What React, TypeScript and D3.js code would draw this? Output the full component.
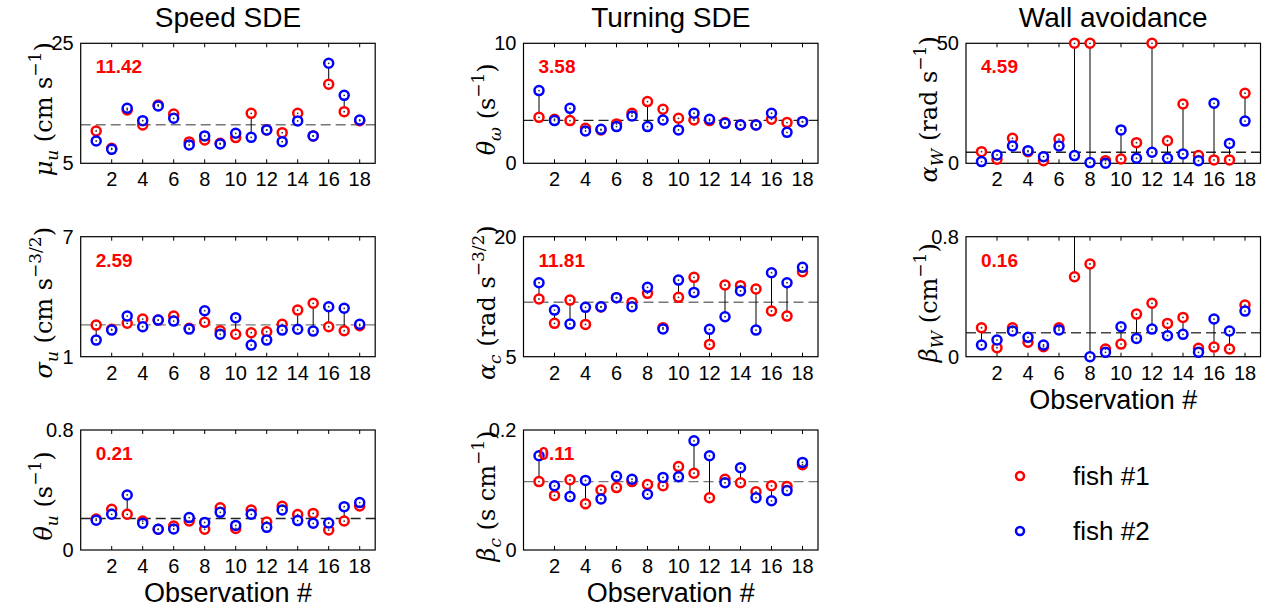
import React from 'react';
import * as d3 from 'd3';

// ---------------- data ----------------
const observations = [1, 2, 3, 4, 5, 6, 7, 8, 9, 10, 11, 12, 13, 14, 15, 16, 17, 18];
const xTickValues = [2, 4, 6, 8, 10, 12, 14, 16, 18];
const seriesNames = ['fish #1', 'fish #2'];
const columnTitles = ['Speed SDE', 'Turning SDE', 'Wall avoidance'];

// Speed SDE: mu_u
const muUFish1 = [10.39, 7.5, 13.89, 11.39, 14.72, 13.22, 8.56, 8.89, 8.33, 9.28, 13.33, 10.56, 10.11, 13.33, 9.56, 18.17, 13.61, 12.11];
const muUFish2 = [8.72, 7.33, 14.17, 12.11, 14.56, 12.5, 8.06, 9.56, 8.22, 10.0, 9.33, 10.56, 8.61, 12.06, 9.56, 21.67, 16.33, 12.22];
// Speed SDE: sigma_u
const sigmaUFish1 = [2.58, 2.37, 2.67, 2.88, 2.83, 3.03, 2.42, 2.72, 2.3, 2.12, 2.2, 2.25, 2.62, 3.33, 3.67, 2.5, 2.3, 2.55];
const sigmaUFish2 = [1.83, 2.33, 3.03, 2.5, 2.83, 2.78, 2.38, 3.3, 2.12, 2.95, 1.58, 1.83, 2.33, 2.37, 2.28, 3.5, 3.42, 2.62];
// Speed SDE: theta_u
const thetaUFish1 = [0.207, 0.271, 0.238, 0.193, 0.138, 0.16, 0.193, 0.138, 0.282, 0.144, 0.267, 0.187, 0.291, 0.236, 0.244, 0.133, 0.193, 0.293];
const thetaUFish2 = [0.198, 0.238, 0.367, 0.178, 0.138, 0.14, 0.216, 0.184, 0.251, 0.164, 0.238, 0.151, 0.267, 0.196, 0.178, 0.18, 0.289, 0.316];
// Turning SDE: theta_omega
const thetaWFish1 = [3.83, 3.67, 3.56, 2.92, 2.78, 3.28, 4.17, 5.14, 4.5, 3.75, 3.61, 3.56, 3.39, 3.19, 3.19, 3.67, 3.39, 3.47];
const thetaWFish2 = [6.06, 3.56, 4.58, 2.69, 2.83, 3.06, 3.94, 3.06, 3.61, 2.78, 4.17, 3.67, 3.33, 3.19, 3.19, 4.17, 2.58, 3.47];
// Turning SDE: alpha_c
const alphaCFish1 = [12.21, 9.17, 12.08, 9.04, 11.21, 12.38, 11.79, 12.92, 8.63, 12.42, 14.92, 6.54, 13.96, 13.88, 13.46, 10.71, 10.08, 15.63];
const alphaCFish2 = [14.25, 10.83, 9.08, 11.17, 11.25, 12.38, 11.25, 13.67, 8.46, 14.58, 13.04, 8.42, 10.0, 13.21, 8.33, 15.5, 14.25, 16.17];
// Turning SDE: beta_c
const betaCFish1 = [0.114, 0.091, 0.117, 0.077, 0.1, 0.104, 0.114, 0.109, 0.107, 0.139, 0.128, 0.087, 0.118, 0.112, 0.097, 0.107, 0.106, 0.142];
const betaCFish2 = [0.157, 0.107, 0.089, 0.116, 0.085, 0.123, 0.118, 0.093, 0.121, 0.122, 0.182, 0.157, 0.112, 0.137, 0.087, 0.082, 0.099, 0.146];
// Wall avoidance: alpha_W
const alphaWFish1 = [4.86, 1.67, 10.4, 4.86, 1.1, 10.1, 50, 50, 1.1, 1.8, 8.6, 50, 9.4, 24.7, 3.2, 1.4, 1.4, 29.2];
const alphaWFish2 = [0.7, 3.47, 7.2, 5.28, 2.78, 7.2, 3.2, 0.3, 0.0, 13.9, 2.1, 4.6, 2.1, 3.9, 1.1, 25.0, 8.3, 17.6];
// Wall avoidance: beta_W
const betaWFish1 = [0.193, 0.06, 0.193, 0.096, 0.067, 0.193, 0.533, 0.618, 0.051, 0.084, 0.284, 0.356, 0.222, 0.262, 0.056, 0.064, 0.051, 0.344];
const betaWFish2 = [0.078, 0.111, 0.171, 0.129, 0.078, 0.178, 1.1, 0.0, 0.029, 0.2, 0.122, 0.184, 0.14, 0.149, 0.029, 0.251, 0.171, 0.304];

// overall means (dashed line) and their labels
const meanValues = [11.42, 2.59, 0.21, 3.58, 11.81, 0.114, 4.59, 0.16];
const meanLabels = ['11.42', '2.59', '0.21', '3.58', '11.81', '0.11', '4.59', '0.16'];

// ---------------- layout ----------------
const COL_LEFT = [80.7, 523.5, 966];
const ROW_TOP = [43.3, 236.7, 430];
const PW = 294.5;
const PH = 120;
const RED = '#ff0000';
const BLUE = '#0000ff';
const SANS = '"Liberation Sans", Arial, Helvetica, sans-serif';
const SERIF = '"DejaVu Serif", "Liberation Serif", serif';

type LabelPart = { t: string; it?: boolean; sub?: boolean; sup?: boolean };

const SUB = 17;
const MAIN = 24;

function mathLabel(parts: LabelPart[]) {
  let shift = 0;
  return parts.map((p, i) => {
    const target = p.sub ? 6 : p.sup ? -11 : 0;
    const dy = target - shift;
    shift = target;
    return (
      <tspan key={i} dy={dy} fontStyle={p.it ? 'italic' : 'normal'} fontSize={p.sub || p.sup ? SUB : MAIN}>
        {p.t}
      </tspan>
    );
  });
}

const panels = [
  { col: 0, row: 0, domain: [5, 25], f1: muUFish1, f2: muUFish2, mi: 0, xlabel: false, dash: '#777',
    label: [{ t: 'μ', it: true }, { t: 'u', it: true, sub: true }, { t: ' (cm s' }, { t: '−1', sup: true }, { t: ')' }] },
  { col: 0, row: 1, domain: [1, 7], f1: sigmaUFish1, f2: sigmaUFish2, mi: 1, xlabel: false, dash: '#777',
    label: [{ t: 'σ', it: true }, { t: 'u', it: true, sub: true }, { t: ' (cm s' }, { t: '−3/2', sup: true }, { t: ')' }] },
  { col: 0, row: 2, domain: [0, 0.8], f1: thetaUFish1, f2: thetaUFish2, mi: 2, xlabel: true, dash: '#222',
    label: [{ t: 'θ', it: true }, { t: 'u', it: true, sub: true }, { t: ' (s' }, { t: '−1', sup: true }, { t: ')' }] },
  { col: 1, row: 0, domain: [0, 10], f1: thetaWFish1, f2: thetaWFish2, mi: 3, xlabel: false, dash: '#222',
    label: [{ t: 'θ', it: true }, { t: 'ω', it: true, sub: true }, { t: ' (s' }, { t: '−1', sup: true }, { t: ')' }] },
  { col: 1, row: 1, domain: [5, 20], f1: alphaCFish1, f2: alphaCFish2, mi: 4, xlabel: false, dash: '#777',
    label: [{ t: 'α', it: true }, { t: 'c', it: true, sub: true }, { t: ' (rad s' }, { t: '−3/2', sup: true }, { t: ')' }] },
  { col: 1, row: 2, domain: [0, 0.2], f1: betaCFish1, f2: betaCFish2, mi: 5, xlabel: true, dash: '#777',
    label: [{ t: 'β', it: true }, { t: 'c', it: true, sub: true }, { t: ' (s cm' }, { t: '−1', sup: true }, { t: ')' }] },
  { col: 2, row: 0, domain: [0, 50], f1: alphaWFish1, f2: alphaWFish2, mi: 6, xlabel: false, dash: '#222',
    label: [{ t: 'α', it: true }, { t: 'W', it: true, sub: true }, { t: ' (rad s' }, { t: '−1', sup: true }, { t: ')' }] },
  { col: 2, row: 1, domain: [0, 0.8], f1: betaWFish1, f2: betaWFish2, mi: 7, xlabel: true, dash: '#444',
    label: [{ t: 'β', it: true }, { t: 'W', it: true, sub: true }, { t: ' (cm' }, { t: '−1', sup: true }, { t: ')' }] },
];

function Panel({ p, idx }: { p: any; idx: number }) {
  const left = COL_LEFT[p.col];
  const top = ROW_TOP[p.row];
  const x = d3.scaleLinear().domain([0, 19]).range([left, left + PW]);
  const y = d3.scaleLinear().domain(p.domain).range([top + PH, top]);
  const mean = meanValues[p.mi];
  const clipBox = `clipbox${idx}`;
  const clipExt = `clipext${idx}`;
  const [d0, d1] = p.domain;
  return (
    <g>
      <defs>
        <clipPath id={clipBox}>
          <rect x={left} y={top} width={PW} height={PH} />
        </clipPath>
        <clipPath id={clipExt}>
          <rect x={left - 10} y={top - 10} width={PW + 20} height={PH + 20} />
        </clipPath>
      </defs>
      {/* dashed mean line */}
      <line x1={left} x2={left + PW} y1={y(mean)} y2={y(mean)} stroke={p.dash} strokeWidth={1.4} strokeDasharray="10,5" />
      {/* stems */}
      <g clipPath={`url(#${clipBox})`}>
        {observations.map((o, i) => (
          <line key={i} x1={x(o)} x2={x(o)} y1={y(p.f1[i])} y2={y(p.f2[i])} stroke="#000" strokeWidth={1} />
        ))}
      </g>
      {/* axes box */}
      <rect x={left} y={top} width={PW} height={PH} fill="none" stroke="#000" strokeWidth={1.2} />
      {xTickValues.map((t) => (
        <g key={t}>
          <line x1={x(t)} x2={x(t)} y1={top + PH} y2={top + PH - 4} stroke="#000" strokeWidth={1} />
          <line x1={x(t)} x2={x(t)} y1={top} y2={top + 4} stroke="#000" strokeWidth={1} />
          <text x={x(t)} y={top + PH + 23} textAnchor="middle" fontFamily={SANS} fontSize={20} fill="#000">
            {t}
          </text>
        </g>
      ))}
      {[d0, d1].map((t, k) => (
        <text key={k} x={left - 7} y={y(t) + 7} textAnchor="end" fontFamily={SANS} fontSize={20} fill="#000">
          {String(t)}
        </text>
      ))}
      {/* markers */}
      <g clipPath={`url(#${clipExt})`}>
        {[p.f1, p.f2].map((vals: number[], s: number) => (
          <g key={s}>
            {observations.map((o, i) => (
              <circle key={i} cx={x(o)} cy={y(vals[i])} r={4.5} fill="#fff" stroke={s === 0 ? RED : BLUE} strokeWidth={2.5} />
            ))}
          </g>
        ))}
        {[p.f1, p.f2].map((vals: number[], s: number) => (
          <g key={'c' + s}>
            {observations.map((o, i) => (
              <circle key={i} cx={x(o)} cy={y(vals[i])} r={0.9} fill="#333" />
            ))}
          </g>
        ))}
      </g>
      {/* mean value text */}
      <text x={left + 15} y={top + 30} fontFamily={SANS} fontWeight="bold" fontSize={19} fill={RED}>
        {meanLabels[p.mi]}
      </text>
      {/* y label */}
      <text transform={`translate(${left - 29},${top + PH / 2 + 6}) rotate(-90)`} textAnchor="middle" fontFamily={SERIF} fontSize={MAIN} fill="#000">
        {mathLabel(p.label)}
      </text>
      {p.xlabel && (
        <text x={(left + left + PW) / 2} y={top + PH + 52} textAnchor="middle" fontFamily={SANS} fontSize={27} fill="#000">
          Observation #
        </text>
      )}
    </g>
  );
}

export default function App() {
  return (
    <svg width={1276} height={612} style={{ position: 'absolute', left: 0, top: 0, background: '#fff' }}>
      <rect x={0} y={0} width={1276} height={612} fill="#fff" />
      {columnTitles.map((t, c) => (
        <text key={t} x={COL_LEFT[c] + PW / 2} y={27} textAnchor="middle" fontFamily={SANS} fontSize={28} fill="#000">
          {t}
        </text>
      ))}
      {panels.map((p, i) => (
        <Panel key={i} p={p} idx={i} />
      ))}
      {/* legend */}
      {seriesNames.map((n, i) => (
        <g key={n}>
          <circle cx={1020} cy={476 + i * 55} r={4} fill="#fff" stroke={i === 0 ? RED : BLUE} strokeWidth={2.5} />
          <text x={1073} y={485 + i * 55} fontFamily={SANS} fontSize={26} fill="#000">
            {n}
          </text>
        </g>
      ))}
    </svg>
  );
}
